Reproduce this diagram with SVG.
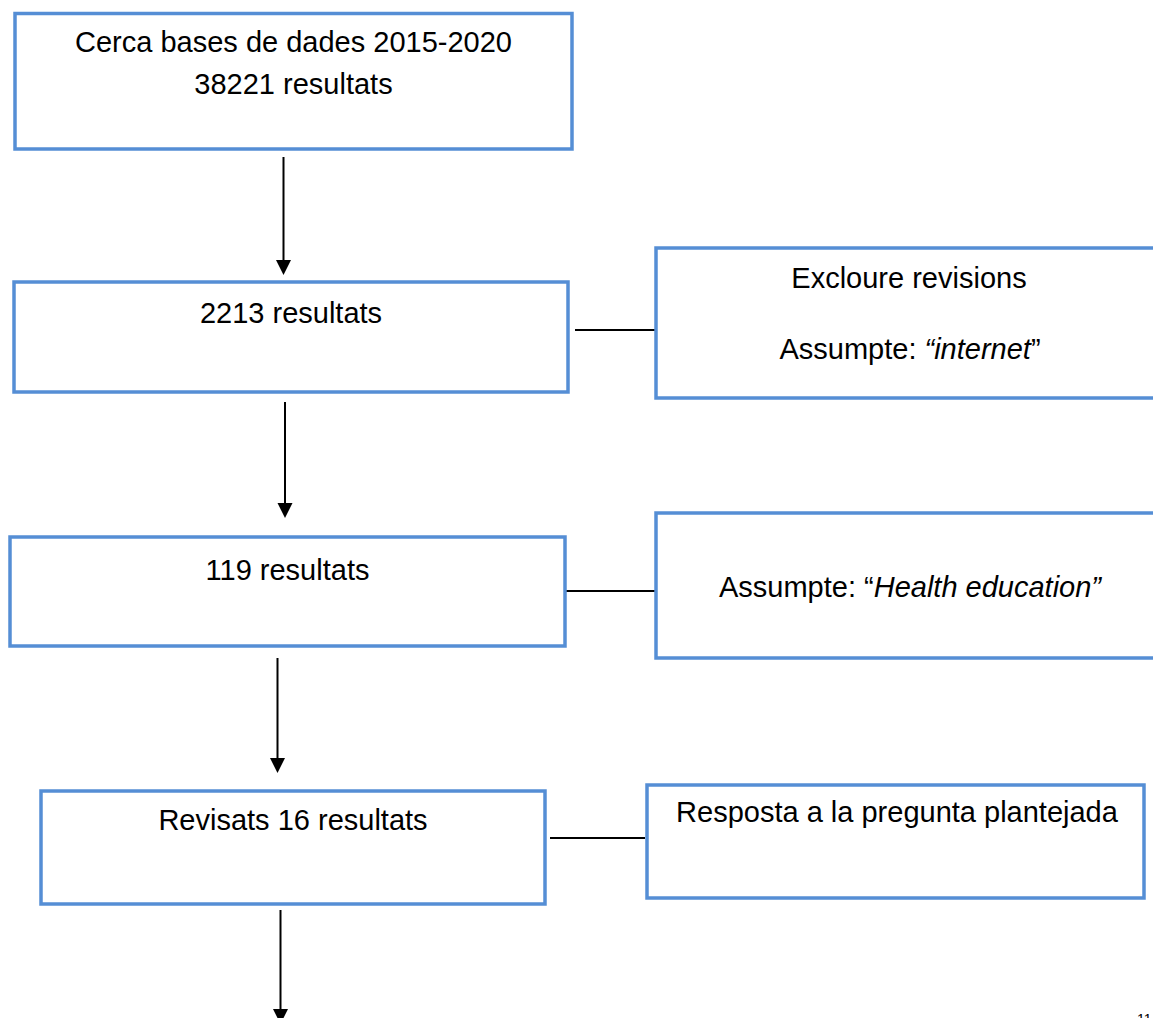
<svg xmlns="http://www.w3.org/2000/svg" width="1153" height="1018" viewBox="0 0 1153 1018">
<style>
.box{fill:#fff;stroke:#558ED5;stroke-width:3.5}
.t{font-family:"Liberation Sans",Arial,sans-serif;font-size:29px;fill:#000;text-anchor:middle}
.i{font-style:italic}
.ln{stroke:#000;stroke-width:2;fill:none}
.ah{fill:#000}
</style>
<rect width="1153" height="1018" fill="#fff"/>
<g id="connectors">
<line class="ln" x1="283.5" y1="157" x2="283.5" y2="260"/>
<path class="ah" d="M276,260 L291,260 L283.5,275 Z"/>
<line class="ln" x1="285" y1="402" x2="285" y2="503"/>
<path class="ah" d="M277.5,503 L292.5,503 L285,518 Z"/>
<line class="ln" x1="277.5" y1="658" x2="277.5" y2="758"/>
<path class="ah" d="M270,758 L285,758 L277.5,773 Z"/>
<line class="ln" x1="280.5" y1="910" x2="280.5" y2="1009"/>
<path class="ah" d="M273,1009 L288,1009 L280.5,1024 Z"/>
<line class="ln" x1="575" y1="330" x2="656" y2="330"/>
<line class="ln" x1="565" y1="591" x2="656" y2="591"/>
<line class="ln" x1="550" y1="838" x2="645" y2="838"/>
</g>
<g id="n1">
<rect class="box" x="15" y="13.5" width="557" height="135.5"/>
<text class="t" x="293.5" y="52">Cerca bases de dades 2015-2020</text>
<text class="t" x="293.5" y="94">38221 resultats</text>
</g>
<g id="n2">
<rect class="box" x="14" y="282" width="554" height="110"/>
<text class="t" x="291" y="323">2213 resultats</text>
</g>
<g id="n3">
<rect class="box" x="656" y="248" width="504" height="150"/>
<text class="t" x="909" y="288">Excloure revisions</text>
<text class="t" x="910" y="359">Assumpte: <tspan class="i">“internet</tspan>”</text>
</g>
<g id="n4">
<rect class="box" x="10" y="537" width="555" height="109"/>
<text class="t" x="287.5" y="580">119 resultats</text>
</g>
<g id="n5">
<rect class="box" x="656" y="513" width="504" height="145"/>
<text class="t" x="910" y="597">Assumpte: “<tspan class="i">Health education”</tspan></text>
</g>
<g id="n6">
<rect class="box" x="41" y="791" width="504" height="113"/>
<text class="t" x="293" y="830">Revisats 16 resultats</text>
</g>
<g id="n7">
<rect class="box" x="647" y="785" width="497" height="113"/>
<text class="t" x="897" y="822">Resposta a la pregunta plantejada</text>
</g>
<text x="1137" y="1024" style="font-family:'Liberation Sans',Arial,sans-serif;font-size:14px;fill:#000">11</text>
</svg>
